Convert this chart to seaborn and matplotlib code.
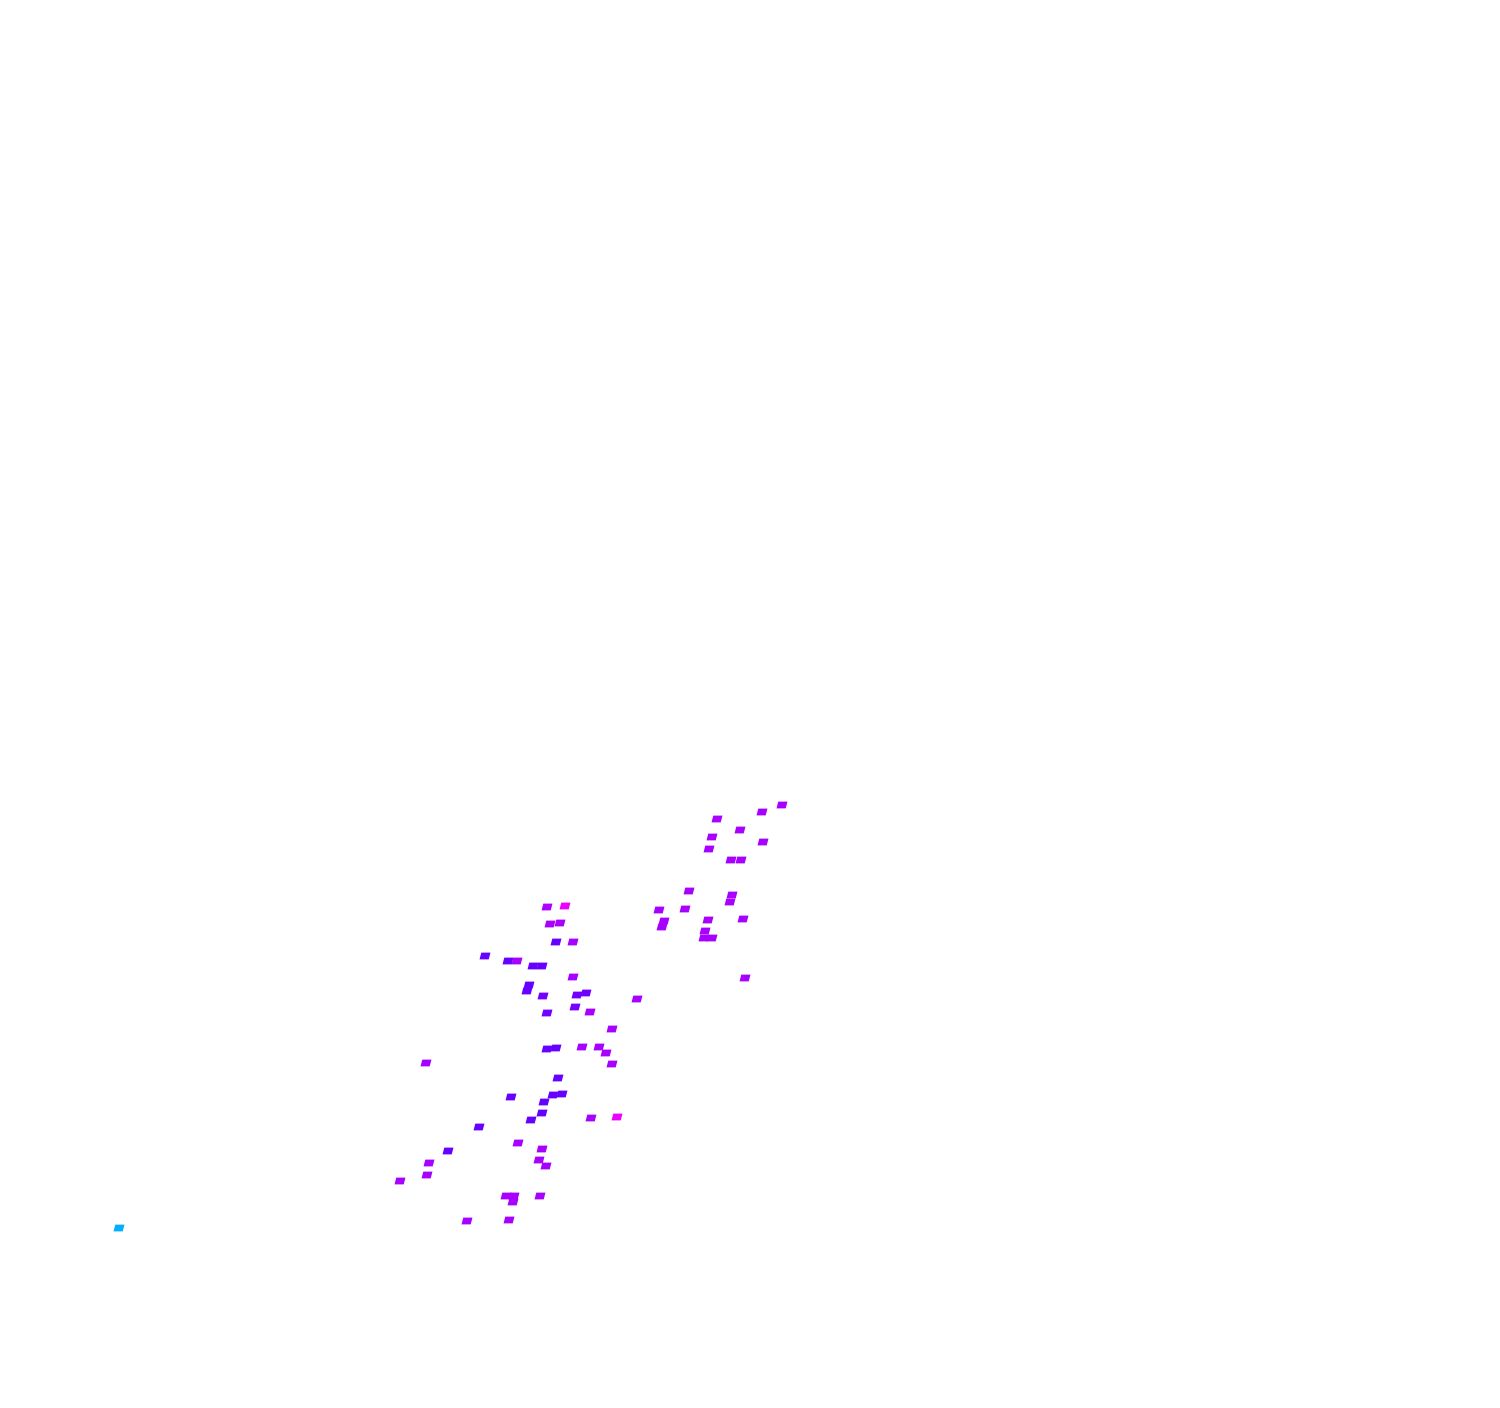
import numpy as np
import pandas as pd
import seaborn as sns
import matplotlib.pyplot as plt
from matplotlib.colors import ListedColormap
from matplotlib.path import Path

# point positions (image-like units, y grows downward) and hue in degrees
x = [782, 762, 717, 740, 712, 763, 709, 731, 741, 689,
     732, 730, 659, 685, 664, 662, 708, 743, 705, 704,
     712, 745,
     547, 565, 550, 560, 556, 573, 508, 517, 533, 542,
     573, 529, 527, 543, 577, 586, 637, 547, 575, 590,
     485, 612,
     547, 556, 582, 599, 606, 612, 426, 558, 553, 562,
     511, 544, 542, 531, 591, 617, 479, 518, 542, 539,
     546, 448, 429, 427, 400, 506, 514, 513, 540, 467,
     509, 119]
y = [805, 812, 819, 830, 837, 842, 849, 860, 860, 891,
     895, 902, 910, 909, 921, 927, 920, 919, 931, 938,
     938, 978,
     907, 906, 924, 923, 942, 942, 961, 961, 966, 966,
     977, 985, 991, 996, 995, 993, 999, 1013, 1007, 1012,
     956, 1029,
     1049, 1048, 1047, 1047, 1053, 1064, 1063, 1078, 1095, 1094,
     1097, 1102, 1113, 1120, 1118, 1117, 1127, 1143, 1149, 1160,
     1166, 1151, 1163, 1175, 1181, 1196, 1196, 1202, 1196, 1221,
     1220, 1228]
hue = [283, 283, 283, 283, 283, 283, 283, 283, 283, 283,
       283, 283, 283, 283, 283, 283, 283, 283, 283, 283,
       283, 283,
       285, 300, 283, 283, 268, 283, 268, 283, 268, 268,
       283, 268, 268, 270, 270, 270, 283, 270, 272, 283,
       268, 283,
       268, 268, 283, 283, 283, 283, 283, 268, 268, 268,
       268, 268, 268, 268, 283, 300, 268, 283, 283, 283,
       283, 268, 283, 283, 283, 283, 283, 283, 283, 283,
       283, 202]

df = pd.DataFrame({"x": x, "y": y, "hue": hue})

cmap = ListedColormap(plt.cm.hsv(np.linspace(200 / 360, 300 / 360, 256)))

# slanted parallelogram marker
marker = Path([(-1.0, -0.62), (0.68, -0.62), (1.0, 0.62), (-0.68, 0.62), (-1.0, -0.62)],
              [Path.MOVETO, Path.LINETO, Path.LINETO, Path.LINETO, Path.CLOSEPOLY])

fig = plt.figure(figsize=(15, 14.08), dpi=100)
ax = fig.add_axes([0, 0, 1, 1])
sns.scatterplot(data=df, x="x", y="y", hue="hue", palette=cmap, hue_norm=(200, 300),
                marker=marker, s=62, linewidth=0, legend=False, ax=ax)
ax.set_xlim(0, 1500)
ax.set_ylim(1408, 0)
ax.axis("off")

fig.savefig("out.png", dpi=100, facecolor="white")
